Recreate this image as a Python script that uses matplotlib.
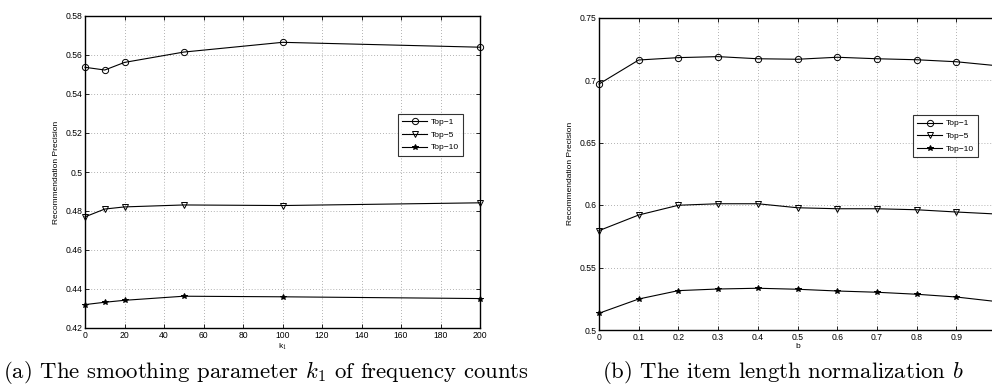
import numpy as np
import matplotlib
matplotlib.use("Agg")
import matplotlib.pyplot as plt

plt.rcParams['font.family'] = ['Liberation Sans', 'DejaVu Sans']
plt.rcParams['mathtext.fontset'] = 'cm'

# left panel: smoothing parameter k1
k1 = [0, 10, 20, 50, 100, 200]
k1_top1 = [0.5537, 0.5523, 0.5562, 0.5615, 0.5665, 0.5640]
k1_top5 = [0.4770, 0.4810, 0.4821, 0.4831, 0.4828, 0.4842]
k1_top10 = [0.4320, 0.4332, 0.4342, 0.4363, 0.4360, 0.4351]

# right panel: item length normalization b
b = [0, 0.1, 0.2, 0.3, 0.4, 0.5, 0.6, 0.7, 0.8, 0.9, 1.0]
b_top1 = [0.6968, 0.7160, 0.7179, 0.7187, 0.7170, 0.7166, 0.7182, 0.7170, 0.7162, 0.7146, 0.7115]
b_top5 = [0.5795, 0.5920, 0.5998, 0.6010, 0.6010, 0.5978, 0.5970, 0.5970, 0.5962, 0.5944, 0.5928]
b_top10 = [0.5134, 0.5248, 0.5315, 0.5328, 0.5334, 0.5326, 0.5312, 0.5302, 0.5286, 0.5264, 0.5228]

labels = ['Top\u22121', 'Top\u22125', 'Top\u221210']
markers = ['o', 'v', '*']

W, H = 992, 385
fig = plt.figure(figsize=(W / 100, H / 100), dpi=100)


def make_axes(x0, x1, ytop, ybot):
    return fig.add_axes([x0 / W, (H - ybot) / H, (x1 - x0) / W, (ybot - ytop) / H])


def style(ax):
    ax.grid(True, linestyle=(0, (1, 2.5)), color='#999999', linewidth=0.6)
    ax.tick_params(direction='in', length=3, width=0.6, labelsize=6.2, top=True, right=True, pad=2)
    for s in ax.spines.values():
        s.set_linewidth(1.0)


def draw(ax, x, series):
    for ys, m, lab in zip(series, markers, labels):
        fc = 'black' if m == '*' else 'none'
        ax.plot(x, ys, color='black', linewidth=0.8, marker=m, markersize=4.5 if m != '*' else 4,
                markerfacecolor=fc, markeredgecolor='black', markeredgewidth=0.7, label=lab,
                clip_on=False)


ax1 = make_axes(85, 480, 16, 328)
draw(ax1, k1, [k1_top1, k1_top5, k1_top10])
ax1.set_xlim(0, 200)
ax1.set_ylim(0.42, 0.58)
ax1.set_xticks(np.arange(0, 201, 20))
ax1.set_yticks(np.arange(0.42, 0.581, 0.02))
ax1.set_yticklabels(['0.42', '0.44', '0.46', '0.48', '0.5', '0.52', '0.54', '0.56', '0.58'])
ax1.set_xlabel('k$_1$', fontsize=6, labelpad=1)
ax1.set_ylabel('Recommendation Precision', fontsize=6, labelpad=4)
style(ax1)
leg1 = ax1.legend(loc='upper left', bbox_to_anchor=(0.782, 0.70), fontsize=6, frameon=True,
                  fancybox=False, edgecolor='black', handlelength=3.0, borderpad=0.5,
                  labelspacing=0.6, handletextpad=0.4)
leg1.get_frame().set_linewidth(0.8)

ax2 = make_axes(599, 996, 17.5, 330)
draw(ax2, b, [b_top1, b_top5, b_top10])
ax2.set_xlim(0, 1)
ax2.set_ylim(0.5, 0.75)
ax2.set_xticks(np.arange(0, 1.01, 0.1))
# the tick label at 1 falls outside the cropped figure, as in the reference
ax2.set_xticklabels(['0', '0.1', '0.2', '0.3', '0.4', '0.5', '0.6', '0.7', '0.8', '0.9', ''])
ax2.set_yticks([0.5, 0.55, 0.6, 0.65, 0.7, 0.75])
ax2.set_yticklabels(['0.5', '0.55', '0.6', '0.65', '0.7', '0.75'])
ax2.set_xlabel('b', fontsize=6, labelpad=1)
ax2.set_ylabel('Recommendation Precision', fontsize=6, labelpad=4)
style(ax2)
leg2 = ax2.legend(loc='upper left', bbox_to_anchor=(0.781, 0.70), fontsize=6, frameon=True,
                  fancybox=False, edgecolor='black', handlelength=3.0, borderpad=0.5,
                  labelspacing=0.6, handletextpad=0.4)
leg2.get_frame().set_linewidth(0.8)

# captions
fig.text(266 / W, 7 / H, '(a) The smoothing parameter $k_1$ of frequency counts',
         fontfamily='cmr10', fontsize=16.4, ha='center', va='baseline')
fig.text(783 / W, 7 / H, '(b) The item length normalization $b$',
         fontfamily='cmr10', fontsize=16.4, ha='center', va='baseline')

fig.savefig('out.png', dpi=100)
